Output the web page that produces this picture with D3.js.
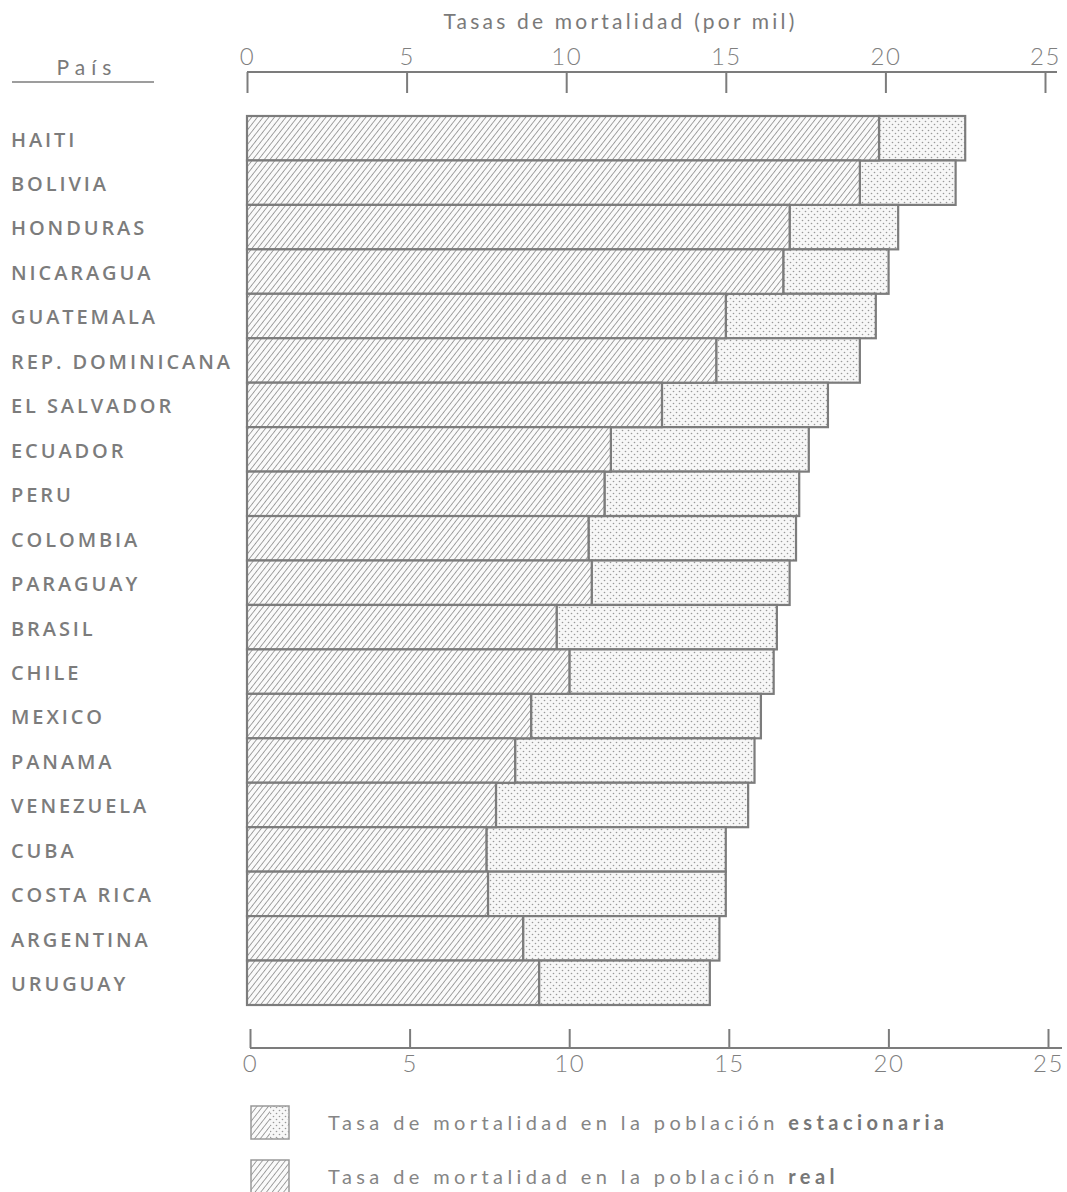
<!DOCTYPE html>
<html lang="es">
<head>
<meta charset="utf-8">
<title>Tasas de mortalidad</title>
<style>
  body { margin: 0; background: #fff; }
  .lbl { font-family: "Open Sans", sans-serif; font-weight: 600; font-size: 20px; letter-spacing: 2.9px; fill: #7c7c7c; }
  .tick text { font-family: "Lato", sans-serif; font-weight: 300; font-size: 24px; fill: #7f7f7f; letter-spacing: 1.5px; }
  .tick line { stroke: #7c7c7c; stroke-width: 2; }
  .axline { stroke: #7c7c7c; stroke-width: 2.2; }
  .ttl { font-family: "Lato", sans-serif; font-size: 21px; fill: #7a7a7a; letter-spacing: 3.2px; }
  .leg { font-family: "Lato", sans-serif; font-size: 20px; fill: #858585; letter-spacing: 4.4px; }
</style>
</head>
<body>
<svg width="1067" height="1192"></svg>
<script src="https://cdn.jsdelivr.net/npm/d3@7/dist/d3.min.js"></script>
<script>
// datos
const countries = ["HAITI", "BOLIVIA", "HONDURAS", "NICARAGUA", "GUATEMALA", "REP. DOMINICANA",
  "EL SALVADOR", "ECUADOR", "PERU", "COLOMBIA", "PARAGUAY", "BRASIL", "CHILE", "MEXICO",
  "PANAMA", "VENEZUELA", "CUBA", "COSTA RICA", "ARGENTINA", "URUGUAY"];
// tasa en la poblacion real
const realRate = [19.8, 19.2, 17.0, 16.8, 15.0, 14.7, 13.0, 11.4, 11.2, 10.7, 10.8, 9.7, 10.1,
  8.9, 8.4, 7.8, 7.5, 7.55, 8.65, 9.15];
// tasa en la poblacion estacionaria
const statRate = [22.5, 22.2, 20.4, 20.1, 19.7, 19.2, 18.2, 17.6, 17.3, 17.2, 17.0, 16.6, 16.5,
  16.1, 15.9, 15.7, 15.0, 15.0, 14.8, 14.5];
const ticks = [0, 5, 10, 15, 20, 25];

const svg = d3.select("svg");
const grey = "#7c7c7c";

// patrones: rayado y punteado
const defs = svg.append("defs");
const hatch = defs.append("pattern")
  .attr("id", "hatch")
  .attr("patternUnits", "userSpaceOnUse")
  .attr("width", 4.5).attr("height", 4.5)
  .attr("patternTransform", "rotate(38)");
hatch.append("rect").attr("width", 4.5).attr("height", 4.5).attr("fill", "#fafafa");
hatch.append("line").attr("x1", 0).attr("y1", 0).attr("x2", 0).attr("y2", 4.5)
  .attr("stroke", "#7e7e7e").attr("stroke-width", 1.4);

const dots = defs.append("pattern")
  .attr("id", "dots")
  .attr("patternUnits", "userSpaceOnUse")
  .attr("width", 6).attr("height", 6);
dots.append("rect").attr("width", 6).attr("height", 6).attr("fill", "#f7f7f7");
dots.append("circle").attr("cx", 1.5).attr("cy", 1.5).attr("r", 0.8).attr("fill", "#999");
dots.append("circle").attr("cx", 4.5).attr("cy", 4.5).attr("r", 0.8).attr("fill", "#999");

// escalas
const x = d3.scaleLinear().domain([0, 25]).range([247, 1045]);
const y = d3.scaleBand().domain(countries).range([116, 1005]).padding(0);

const data = countries.map((c, i) => ({ c: c, r: realRate[i], s: statRate[i] }));

// barras
const g = svg.append("g");
g.selectAll(".dot").data(data).enter().append("rect")
  .attr("x", d => x(d.r))
  .attr("y", d => y(d.c))
  .attr("width", d => x(d.s) - x(d.r))
  .attr("height", y.bandwidth())
  .attr("fill", "url(#dots)")
  .attr("stroke", grey).attr("stroke-width", 2.2);

g.selectAll(".hat").data(data).enter().append("rect")
  .attr("x", x(0))
  .attr("y", d => y(d.c))
  .attr("width", d => x(d.r) - x(0))
  .attr("height", y.bandwidth())
  .attr("fill", "url(#hatch)")
  .attr("stroke", grey).attr("stroke-width", 2.2);

// nombres de paises
svg.append("g").selectAll("text").data(countries).enter().append("text")
  .attr("class", "lbl")
  .attr("x", 11)
  .attr("y", d => y(d) + y.bandwidth() / 2 + 3)
  .attr("dominant-baseline", "middle")
  .text(d => d);

svg.append("text").attr("class", "ttl")
  .attr("x", 87).attr("y", 75)
  .attr("text-anchor", "middle")
  .style("letter-spacing", "6px")
  .text("País");
svg.append("line").attr("class", "axline")
  .attr("x1", 12).attr("x2", 154).attr("y1", 82).attr("y2", 82)
  .style("stroke-width", 1.6);

// eje superior
const topY = 72;
const topAxis = svg.append("g")
  .attr("transform", `translate(0,${topY})`)
  .call(d3.axisTop(x).tickValues(ticks).tickSizeInner(-21).tickSizeOuter(0).tickPadding(7));
topAxis.select(".domain").remove();
topAxis.append("line").attr("class", "axline")
  .attr("x1", x(0)).attr("x2", x(25) + 12);

svg.append("text").attr("class", "ttl")
  .attr("x", x(11.7)).attr("y", 29)
  .attr("text-anchor", "middle")
  .text("Tasas de mortalidad (por mil)");

// eje inferior
const botY = 1048;
const botAxis = svg.append("g")
  .attr("transform", `translate(3,${botY})`)
  .call(d3.axisBottom(x).tickValues(ticks).tickSizeInner(-19).tickSizeOuter(0).tickPadding(7));
botAxis.select(".domain").remove();
botAxis.append("line").attr("class", "axline")
  .attr("x1", x(0)).attr("x2", x(25) + 14);

// leyenda
const legend = [
  { t: "Tasa de mortalidad en la población ", b: "estacionaria", mixed: true },
  { t: "Tasa de mortalidad en la población ", b: "real", mixed: false }
];
const lg = svg.append("g").attr("transform", "translate(251,1106)");
legend.forEach((d, i) => {
  const row = lg.append("g").attr("transform", `translate(0,${i * 54})`);
  row.append("rect").attr("width", 38).attr("height", 33)
    .attr("fill", "url(#hatch)").attr("stroke", "#999").attr("stroke-width", 1.5);
  if (d.mixed) {
    row.append("rect").attr("x", 19).attr("y", 1).attr("width", 18).attr("height", 31)
      .attr("fill", "url(#dots)");
  }
  const t = row.append("text").attr("class", "leg").attr("x", 77).attr("y", 24);
  t.append("tspan").text(d.t);
  t.append("tspan").style("font-weight", "bold").style("fill", "#777").text(d.b);
});
</script>
</body>
</html>
